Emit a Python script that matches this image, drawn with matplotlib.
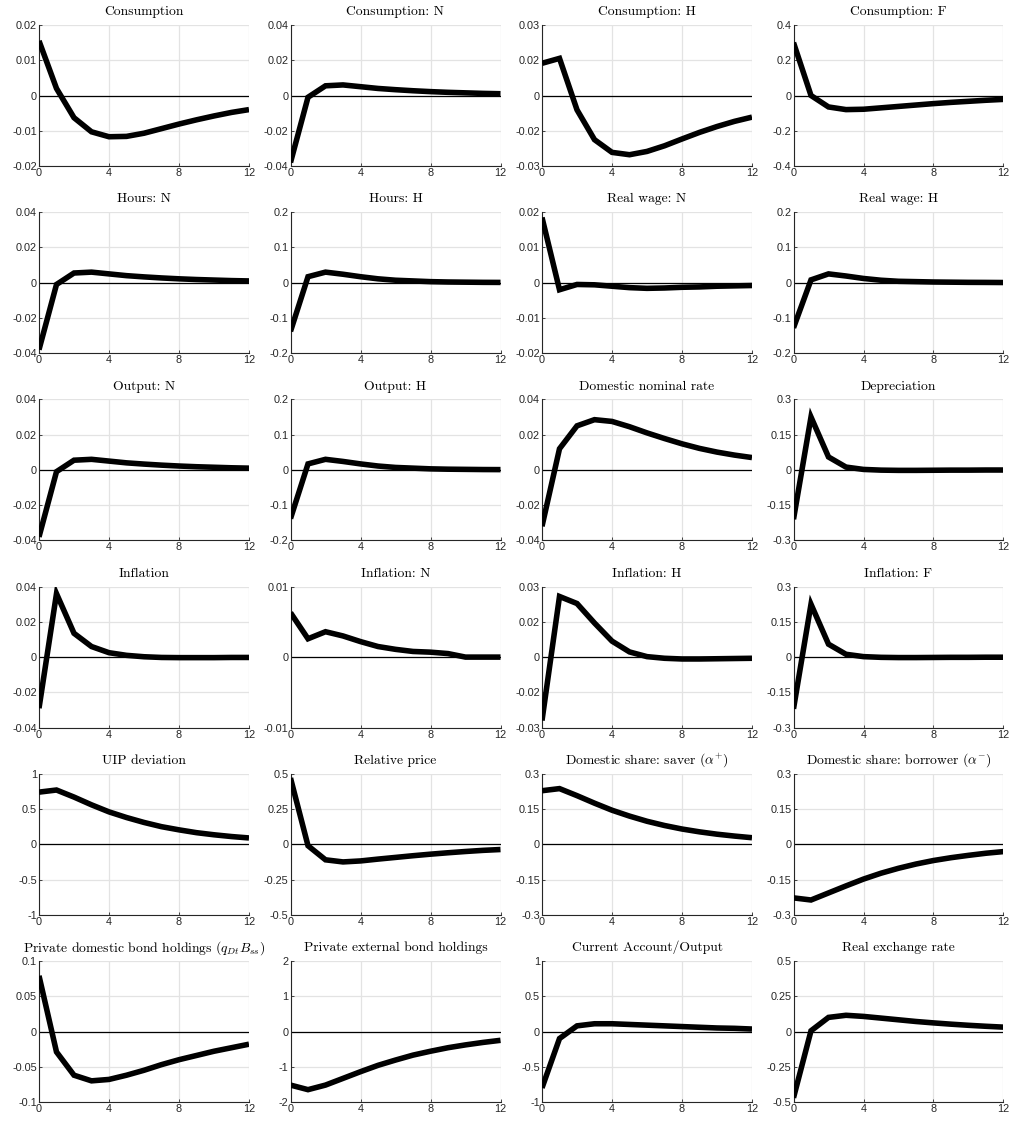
import numpy as np
import matplotlib
matplotlib.use("Agg")
import matplotlib.pyplot as plt

plt.rcParams["font.family"] = ["Liberation Sans", "DejaVu Sans"]
plt.rcParams["mathtext.fontset"] = "cm"
plt.rcParams["axes.unicode_minus"] = False

# ---------------------------------------------------------------- data ------
horizon = np.arange(13)

consumption = [0.0155, 0.002, -0.0063, -0.0103, -0.0117, -0.0116, -0.0107,
               -0.0094, -0.0081, -0.0069, -0.0058, -0.0048, -0.004]
consumption_n = [-0.038, -0.001, 0.0055, 0.006, 0.005, 0.004, 0.0033,
                 0.0027, 0.0022, 0.0018, 0.0015, 0.0012, 0.001]
consumption_h = [0.0137, 0.0158, -0.0061, -0.0188, -0.0242, -0.0252, -0.0238,
                 -0.0214, -0.0185, -0.0157, -0.0132, -0.011, -0.0092]
consumption_f = [0.30, 0.0, -0.065, -0.08, -0.078, -0.07, -0.062,
                 -0.054, -0.046, -0.039, -0.033, -0.027, -0.022]

hours_n = [-0.038, -0.001, 0.0055, 0.006, 0.005, 0.004, 0.0033,
           0.0027, 0.0022, 0.0018, 0.0015, 0.0012, 0.001]
hours_h = [-0.138, 0.017, 0.03, 0.024, 0.017, 0.011, 0.007,
           0.005, 0.003, 0.002, 0.0015, 0.001, 0.0008]
wage_n = [0.0185, -0.002, -0.0005, -0.0006, -0.001, -0.0014, -0.0016,
          -0.0015, -0.0013, -0.0012, -0.001, -0.0009, -0.0008]
wage_h = [-0.128, 0.008, 0.025, 0.019, 0.012, 0.007, 0.004,
          0.003, 0.002, 0.0015, 0.001, 0.0008, 0.0005]

output_n = [-0.038, -0.001, 0.0055, 0.006, 0.005, 0.004, 0.0033,
            0.0027, 0.0022, 0.0018, 0.0015, 0.0012, 0.001]
output_h = [-0.138, 0.017, 0.03, 0.024, 0.017, 0.011, 0.007,
            0.005, 0.003, 0.002, 0.0015, 0.001, 0.0008]
nominal_rate = [-0.032, 0.012, 0.025, 0.0285, 0.0275, 0.0245, 0.021,
                0.0178, 0.0148, 0.0122, 0.0101, 0.0084, 0.007]
depreciation = [-0.21, 0.225, 0.055, 0.012, 0.002, -0.001, -0.002,
                -0.002, -0.0015, -0.001, -0.001, -0.0005, -0.0005]

inflation = [-0.029, 0.036, 0.0135, 0.006, 0.0025, 0.001, 0.0002,
             -0.0002, -0.0003, -0.0003, -0.0003, -0.0002, -0.0002]
inflation_n = [0.0063, 0.0026, 0.0036, 0.003, 0.0022, 0.0015, 0.0011,
               0.0008, 0.0007, 0.0005, 0.0, 0.0, 0.0]
inflation_h = [-0.027, 0.0258, 0.0228, 0.0145, 0.0068, 0.0022, 0.0002,
               -0.0005, -0.0008, -0.0008, -0.0007, -0.0006, -0.0005]
inflation_f = [-0.22, 0.225, 0.055, 0.012, 0.002, -0.001, -0.002,
               -0.002, -0.0015, -0.001, -0.001, -0.0005, -0.0005]

uip_dev = [0.74, 0.77, 0.67, 0.56, 0.46, 0.38, 0.31,
           0.25, 0.205, 0.165, 0.135, 0.11, 0.09]
rel_price = [0.47, -0.01, -0.11, -0.125, -0.118, -0.105, -0.093,
             -0.081, -0.07, -0.06, -0.051, -0.043, -0.037]
share_saver = [0.228, 0.237, 0.207, 0.175, 0.145, 0.12, 0.098,
               0.08, 0.065, 0.053, 0.043, 0.035, 0.028]
share_borrower = [-0.228, -0.237, -0.207, -0.177, -0.148, -0.123, -0.102,
                  -0.084, -0.069, -0.057, -0.047, -0.038, -0.031]

dom_bonds = [0.079, -0.029, -0.062, -0.07, -0.068, -0.062, -0.055,
             -0.047, -0.04, -0.034, -0.028, -0.023, -0.018]
ext_bonds = [-1.52, -1.65, -1.52, -1.33, -1.14, -0.96, -0.81,
             -0.67, -0.56, -0.46, -0.38, -0.31, -0.25]
ca_output = [-0.8, -0.1, 0.08, 0.11, 0.11, 0.1, 0.09,
             0.08, 0.07, 0.06, 0.05, 0.045, 0.035]
rer = [-0.47, 0.005, 0.1, 0.115, 0.107, 0.095, 0.083,
       0.071, 0.061, 0.052, 0.044, 0.037, 0.031]

titles = [
    "Consumption", "Consumption: N", "Consumption: H", "Consumption: F",
    "Hours: N", "Hours: H", "Real wage: N", "Real wage: H",
    "Output: N", "Output: H", "Domestic nominal rate", "Depreciation",
    "Inflation", "Inflation: N", "Inflation: H", "Inflation: F",
    "UIP deviation", "Relative price",
    r"Domestic share: saver ($\alpha^{+}$)",
    r"Domestic share: borrower ($\alpha^{-}$)",
    r"Private domestic bond holdings ($q_{Dt}B_{ss}$)",
    "Private external bond holdings", "Current Account/Output",
    "Real exchange rate",
]
series = [
    consumption, consumption_n, consumption_h, consumption_f,
    hours_n, hours_h, wage_n, wage_h,
    output_n, output_h, nominal_rate, depreciation,
    inflation, inflation_n, inflation_h, inflation_f,
    uip_dev, rel_price, share_saver, share_borrower,
    dom_bonds, ext_bonds, ca_output, rer,
]
# symmetric y-limit of each panel
ylims = [
    0.02, 0.04, 0.03, 0.4,
    0.04, 0.2, 0.02, 0.2,
    0.04, 0.2, 0.04, 0.3,
    0.04, 0.01, 0.03, 0.3,
    1, 0.5, 0.3, 0.3,
    0.1, 2, 1, 0.5,
]
# tick labels (bottom -> top) that differ from the plain values
# (the +-0.015 ticks are printed rounded, as in the original figure)
label_overrides = {
    0.03: ["-0.03", "-0.02", "0", "0.02", "0.03"],
}


def fmt(v):
    return "0" if v == 0 else f"{v:g}"


# --------------------------------------------------------------- plotting ---
W, H = 1011, 1121
fig = plt.figure(figsize=(W / 100, H / 100), dpi=100)

left0, col_step, ax_w = 39, 251.5, 210
top0, row_step, ax_h = 25, 187.2, 141

for k, (title, vals, lim) in enumerate(zip(titles, series, ylims)):
    r, c = divmod(k, 4)
    x0 = left0 + c * col_step
    y_top = top0 + r * row_step
    ax = fig.add_axes([x0 / W, 1 - (y_top + ax_h) / H, ax_w / W, ax_h / H])

    ax.axhline(0, color="black", lw=0.9, zorder=2)
    ax.plot(horizon, vals, color="black", lw=4.0, zorder=3,
            solid_joinstyle="miter", solid_capstyle="butt")

    ax.set_xlim(0, 12)
    ax.set_ylim(-lim, lim)
    ax.set_xticks([0, 4, 8, 12])
    ax.set_xticklabels(["0", "4", "8", "12"])
    if lim == 0.01:
        yt = [-0.01, 0, 0.01]
    else:
        yt = [-lim, -lim / 2, 0, lim / 2, lim]
    ax.set_yticks(yt)
    ax.set_yticklabels(label_overrides.get(lim, [fmt(v) for v in yt]))

    ax.grid(True, color="#e3e3e3", lw=0.9)
    ax.set_axisbelow(True)
    for side in ("top", "right"):
        ax.spines[side].set_visible(False)
    for side in ("left", "bottom"):
        ax.spines[side].set_linewidth(0.8)
        ax.spines[side].set_color("#262626")
    ax.tick_params(direction="in", length=2.5, width=0.6, labelsize=7.8,
                   colors="#262626", pad=1.5)
    ax.set_title(title, fontsize=9.8, family="cmr10", pad=7)

fig.savefig("out.png", dpi=100)
